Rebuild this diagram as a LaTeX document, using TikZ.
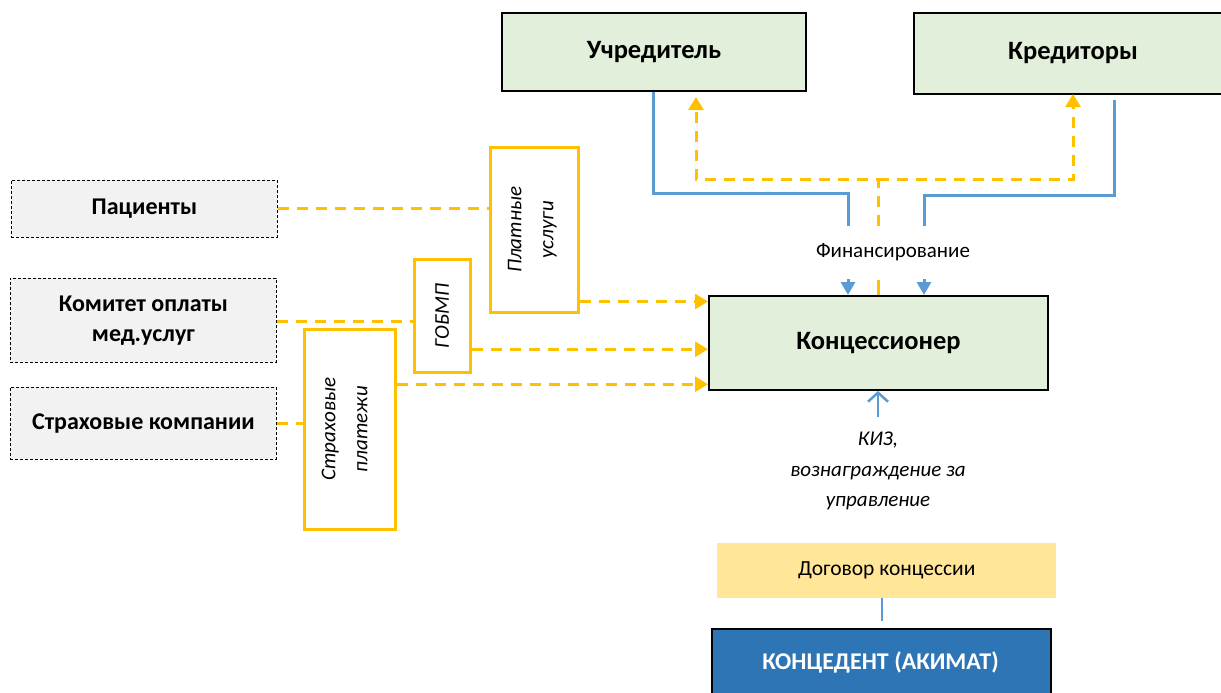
\documentclass[tikz,border=0pt]{standalone}
\usepackage{fontspec}
\setmainfont{Carlito}
\usetikzlibrary{arrows.meta}
\definecolor{gfill}{HTML}{E2EFDA}
\definecolor{yel}{HTML}{FFC000}
\definecolor{bl}{HTML}{5B9BD5}
\definecolor{dbl}{HTML}{2E75B6}
\definecolor{lyel}{HTML}{FFE699}
\definecolor{gray1}{HTML}{F2F2F2}
\tikzset{
  box/.style={draw, inner sep=0pt, anchor=north west, align=center},
  greenbox/.style={box, fill=gfill, line width=2pt},
  srcbox/.style={box, fill=gray1, line width=0.8pt, dash pattern=on 3pt off 2pt},
  bigtext/.style={font=\fontsize{26.5}{30}\selectfont\bfseries},
  srctext/.style={align=center, font=\fontsize{24}{30}\selectfont\bfseries},
  paybox/.style={box, draw=yel, line width=2.5pt},
  paytext/.style={rotate=90, align=center, font=\fontsize{21}{32}\selectfont\itshape},
  ydash/.style={draw=yel, line width=3pt, dash pattern=on 11pt off 8pt},
  yarr/.style={ydash, -{Triangle[length=13pt,width=15pt]}},
  bline/.style={draw=bl, line width=3pt},
  barr/.style={bline, -{Triangle[length=13pt,width=14pt]}}
}
\begin{document}
\begin{tikzpicture}[x=1pt,y=-1pt]
\useasboundingbox (0,0) rectangle (1221,693);
% main boxes
\node[greenbox, minimum width=304pt, minimum height=78pt] (uch) at (501,12) {};
\node[bigtext] (ucht) at (uch.center) {Учредитель};
\node[greenbox, minimum width=318pt, minimum height=81pt] (kred) at (913,12) {};
\node[bigtext] (kredt) at (kred.center) {Кредиторы};
\node[greenbox, minimum width=339pt, minimum height=94pt] (konc) at (708,295) {};
\node[bigtext] (konct) at (konc.center) {Концессионер};
% source boxes
\node[srcbox, minimum width=266pt, minimum height=57pt] (pac) at (11,180) {};
\node[srctext] (pact) at (pac.center) {Пациенты};
\node[srcbox, minimum width=266pt, minimum height=84pt] (kom) at (10,278) {};
\node[srctext] (komt) at (kom.center) {Комитет оплаты\\мед.услуг};
\node[srcbox, minimum width=266pt, minimum height=72pt] (strk) at (10,387) {};
\node[srctext] (strkt) at (strk.center) {Страховые компании};
% payment boxes
\node[paybox, minimum width=88pt, minimum height=165pt] (plat) at (489,146) {};
\node[paytext] (platt) at ([xshift=-2pt]plat.center) {Платные\\услуги};
\node[paybox, minimum width=56pt, minimum height=113pt] (gob) at (413,258) {};
\node[paytext] (gobt) at (gob.center) {ГОБМП};
\node[paybox, minimum width=91pt, minimum height=200pt] (strp) at (303,328) {};
\node[paytext] (strpt) at ([xshift=-5pt]strp.center) {Страховые\\платежи};
% contract boxes
\node[box, draw=none, fill=lyel, minimum width=339pt, minimum height=55pt] (dog) at (717,543) {};
\node[font=\fontsize{21.5}{26}\selectfont] (dogt) at (dog.center) {Договор концессии};
\node[box, fill=dbl, line width=2pt, minimum width=339pt, minimum height=80pt] (ced) at (711,628) {};
\node[text=white, font=\fontsize{24}{28}\selectfont\bfseries] (cedt) at (880.5,662) {КОНЦЕДЕНТ (АКИМАТ)};
% labels
\node[font=\fontsize{21}{26}\selectfont] (fin) at (893,252) {Финансирование};
\node[align=center, font=\fontsize{21}{30.5}\selectfont\itshape] (kiz) at (878,471) {КИЗ,\\вознаграждение за\\управление};
% coordinates
\coordinate (fL) at (848,226);
\coordinate (fR) at (924,226);
\coordinate (fY) at (878,226);
\coordinate (tL) at (848,279);
\coordinate (tR) at (924,279);
\coordinate (tY) at (878,280);
\coordinate (uchT) at (696,97);
\coordinate (kredT) at (1073,94);
\coordinate (kizS) at (878,417);
% left inputs
\draw[ydash] (pac.east) -- (pac.east -| plat.west);
\draw[ydash] ([yshift=-1pt]kom.east) -- ([yshift=-1pt]kom.east -| gob.west);
\draw[ydash] (strk.east) -- (strk.east -| strp.west);
\coordinate (a1) at ([yshift=12pt]plat.south east);
\coordinate (a2) at ([yshift=-33.5pt]gob.east);
\coordinate (a3) at ([yshift=45pt]strp.east);
\draw[yarr] (a1) -- (a1 -| konc.west);
\draw[yarr] (a2) -- (a2 -| konc.west);
\draw[yarr] (a3) -- (a3 -| konc.west);
% financing
\draw[bline] ([xshift=152pt]uch.south west) |- (fL |- 0,193) -- (fL);
\draw[bline] ([shift={(201,5)}]kred.south west) |- (fR |- 0,195) -- (fR);
\draw[barr] (tL) -- (tL |- konc.north);
\draw[barr] (tR) -- (tR |- konc.north);
\draw[yarr] (fY) -- (878,179.5) -| (uchT);
\draw[yarr] (878,179.5) -| (kredT);
\draw[draw=yel, line width=3pt] (tY) -- (tY |- konc.north);
% KIZ arrow
\draw[bline, line width=2.5pt, -{Straight Barb[length=9pt,width=20pt]}] (kizS) -- (kizS |- konc.south);
% contract link
\draw[bline, line width=2.5pt] ([xshift=-4.5pt]dog.south) -- ++(0,23);
\end{tikzpicture}
\end{document}
